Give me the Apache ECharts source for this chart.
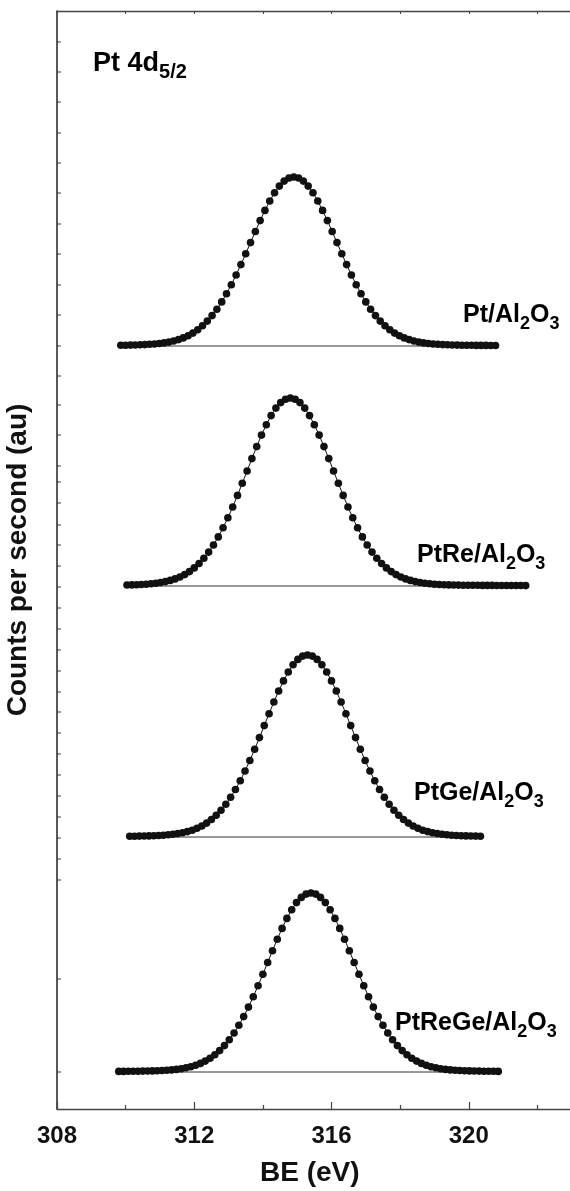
<!DOCTYPE html>
<html>
<head>
<meta charset="utf-8">
<script src="https://cdn.jsdelivr.net/npm/echarts@6/dist/echarts.min.js"></script>
<style>
  html, body { margin: 0; padding: 0; background: #fff; }
  #chart { width: 570px; height: 1191px; }
</style>
</head>
<body>
<div id="chart"></div>
<script>
// Pt 4d5/2 XPS spectra, stacked with vertical offsets (counts in arbitrary units)
const sampleNames = ['Pt/Al2O3', 'PtRe/Al2O3', 'PtGe/Al2O3', 'PtReGe/Al2O3'];
const energyStep = 0.14; // eV between acquisition points

const ptStart = 309.86;
const ptCounts = [0.8,0.8,0.9,1.0,1.2,1.4,1.7,2.0,2.5,3.1,3.9,5.0,6.4,8.1,10.3,12.9,16.2,20.2,24.9,30.4,
  36.8,44.1,52.3,61.3,71.0,81.4,92.3,103.4,114.5,125.4,135.6,145.0,153.2,159.9,164.9,168.0,169.0,168.0,164.9,159.9,
  153.2,145.0,135.6,125.4,114.5,103.4,92.3,81.4,71.0,61.3,52.3,44.1,36.8,30.4,24.9,20.2,16.2,12.9,10.3,8.1,
  6.4,5.0,3.9,3.1,2.5,2.0,1.7,1.4,1.2,1.0,0.9,0.8,0.8,0.7,0.6,0.6,0.6,0.5,0.5];

const ptReStart = 310.04;
const ptReCounts = [1.0,1.1,1.3,1.5,1.8,2.2,2.8,3.5,4.4,5.6,7.1,9.0,11.4,14.4,18.1,22.5,27.7,33.9,41.0,49.1,
  58.2,68.2,79.0,90.6,102.7,115.0,127.4,139.4,150.9,161.3,170.4,177.9,183.4,186.8,188.0,186.8,183.4,177.9,170.4,161.3,
  150.9,139.4,127.4,115.0,102.7,90.6,79.0,68.2,58.2,49.1,41.0,33.9,27.7,22.5,18.1,14.4,11.4,9.0,7.1,5.6,
  4.4,3.5,2.8,2.2,1.8,1.5,1.3,1.1,1.0,0.9,0.8,0.8,0.7,0.7,0.6,0.6,0.6,0.5,0.5,0.5,0.5,0.5,0.5,0.4];

const ptGeStart = 310.12;
const ptGeCounts = [0.7,0.8,0.9,1.0,1.1,1.3,1.5,1.8,2.2,2.7,3.4,4.2,5.4,6.8,8.7,11.0,13.9,17.5,21.7,26.8,
  32.8,39.7,47.5,56.3,66.0,76.5,87.7,99.4,111.4,123.3,135.0,146.0,156.1,165.0,172.2,177.6,180.9,182.0,180.9,177.6,
  172.2,165.0,156.1,146.0,135.0,123.3,111.4,99.4,87.7,76.5,66.0,56.3,47.5,39.7,32.8,26.8,21.7,17.5,13.9,11.0,
  8.7,6.8,5.4,4.2,3.4,2.7,2.2,1.8,1.5,1.3,1.1,1.0,0.9,0.8];

const ptReGeStart = 309.80;
const ptReGeCounts = [0.6,0.6,0.7,0.7,0.8,0.9,1.0,1.1,1.3,1.5,1.8,2.1,2.6,3.3,4.2,5.3,6.7,8.6,10.9,13.7,
  17.2,21.4,26.4,32.2,39.0,46.7,55.4,64.9,75.3,86.3,97.8,109.5,121.3,132.8,143.6,153.6,162.2,169.4,174.6,177.9,
  179.0,177.9,174.6,169.4,162.2,153.6,143.6,132.8,121.3,109.5,97.8,86.3,75.3,64.9,55.4,46.7,39.0,32.2,26.4,21.4,
  17.2,13.7,10.9,8.6,6.7,5.3,4.2,3.3,2.6,2.1,1.8,1.5,1.3,1.1,1.0,0.9,0.8,0.7,0.7,0.6];

// vertical offset applied to each spectrum in the stack
const stackOffsets = [763, 523, 272, 37];

// tick marks on the intensity axis (au)
const yTickValues = [1067,1037,1007,976,946,916,885,855,824,794,763,733,704,674,643,627,606,584,564,543,
  522,501,480,459,438,417,397,376,355,334,313,292,271,250,229,130,37];

const xMin = 308, xMax = 324;

const INK = '#111111';
const FONT = '"Liberation Sans", Arial, Helvetica, sans-serif';

const starts = [ptStart, ptReStart, ptGeStart, ptReGeStart];
const counts = [ptCounts, ptReCounts, ptGeCounts, ptReGeCounts];

function spectrumPoints(start, values, offset) {
  return values.map((v, i) => [+(start + i * energyStep).toFixed(3), offset + v]);
}

const series = [];
counts.forEach((vals, i) => {
  const start = starts[i];
  const end = +(start + (vals.length - 1) * energyStep).toFixed(3);
  // background line under each peak
  series.push({
    type: 'line', name: sampleNames[i] + ' background',
    data: [[start, stackOffsets[i]], [end, stackOffsets[i]]],
    symbol: 'none', silent: true, z: 1,
    lineStyle: { color: '#333', width: 1 }
  });
  series.push({
    type: 'line', name: sampleNames[i],
    data: spectrumPoints(start, vals, stackOffsets[i]),
    symbol: 'circle', symbolSize: 7.6, showAllSymbol: true, z: 3,
    itemStyle: { color: INK, borderWidth: 0 },
    lineStyle: { color: INK, width: 1 }
  });
});

// minor ticks on the intensity axis
series.push({
  type: 'scatter', silent: true, clip: false, z: 5,
  data: yTickValues.map(v => [xMin, v]),
  symbol: 'rect', symbolSize: [4, 1.2], symbolOffset: [2, 0],
  itemStyle: { color: '#333' }
});

const main = { fontSize: 25, fontWeight: 'bold', fontFamily: FONT, color: INK, lineHeight: 30 };
const sub = { fontSize: 18, fontWeight: 'bold', fontFamily: FONT, color: INK, lineHeight: 30, padding: [17, 0, 0, 0] };

function sampleLabel(x, y, base1, mid) {
  return {
    type: 'text', left: x, top: y, silent: true,
    style: {
      text: '{m|' + base1 + '}{s|2}{m|' + mid + '}{s|3}',
      rich: { m: main, s: sub }
    }
  };
}

const chart = echarts.init(document.getElementById('chart'), null, { renderer: 'canvas' });
chart.setOption({
  animation: false,
  backgroundColor: '#fff',
  grid: { left: 57, top: 11, bottom: 82, right: -36, containLabel: false, outerBoundsMode: 'none' },
  xAxis: [{
    type: 'value', position: 'bottom', min: xMin, max: xMax, interval: 4,
    axisLine: { lineStyle: { color: '#444', width: 1.3 } },
    axisTick: { inside: true, length: 7, lineStyle: { color: '#444', width: 1.2 } },
    minorTick: { show: true, splitNumber: 2, length: 4, lineStyle: { color: '#444', width: 1.2 } },
    axisLabel: { fontSize: 24, fontWeight: 'bold', fontFamily: FONT, color: INK, margin: 15, showMinLabel: true },
    splitLine: { show: false }
  }, {
    type: 'value', position: 'top', min: xMin, max: xMax, interval: 2,
    axisLine: { lineStyle: { color: '#444', width: 1.3 } },
    axisTick: { inside: true, length: 3, lineStyle: { color: '#444' } },
    axisLabel: { show: false },
    splitLine: { show: false }
  }],
  yAxis: {
    type: 'value', min: 0, max: 1098,
    name: 'Counts per second (au)', nameLocation: 'middle', nameRotate: 90, nameGap: 25,
    nameTextStyle: { fontSize: 28, fontWeight: 'bold', fontFamily: FONT, color: INK },
    axisLine: { show: true, lineStyle: { color: '#222', width: 1.5 } },
    axisTick: { show: false }, axisLabel: { show: false }, splitLine: { show: false }
  },
  graphic: [
    {
      type: 'text', left: 93, top: 46, silent: true,
      style: {
        text: '{t|Pt 4d}{u|5/2}',
        rich: {
          t: { fontSize: 27, fontWeight: 'bold', fontFamily: FONT, color: INK, lineHeight: 32 },
          u: { fontSize: 20, fontWeight: 'bold', fontFamily: FONT, color: INK, lineHeight: 32, padding: [16, 0, 0, 0] }
        }
      }
    },
    sampleLabel(463, 298, 'Pt/Al', 'O'),
    sampleLabel(417, 538, 'PtRe/Al', 'O'),
    sampleLabel(414, 776, 'PtGe/Al', 'O'),
    sampleLabel(395, 1006, 'PtReGe/Al', 'O'),
    {
      type: 'text', left: 260, top: 1159, silent: true,
      style: { text: 'BE (eV)', fontSize: 28, fontWeight: 'bold', fontFamily: FONT, fill: INK }
    }
  ],
  series: series
});
</script>
</body>
</html>
